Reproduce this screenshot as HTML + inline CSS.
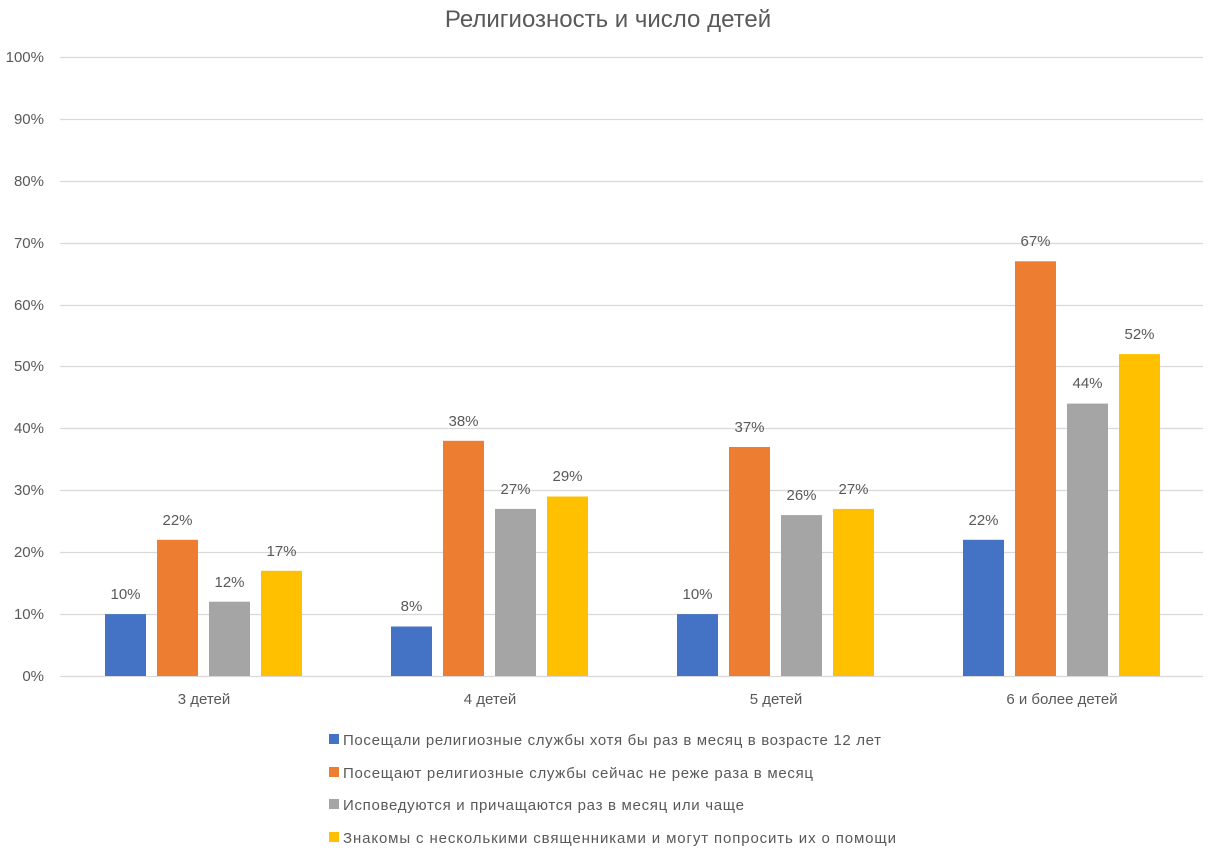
<!DOCTYPE html>
<html><head><meta charset="utf-8"><style>
body{margin:0;background:#fff;}
svg text{font-family:"Liberation Sans",sans-serif;fill:#595959;}
</style></head><body>
<svg width="1213" height="852" xmlns="http://www.w3.org/2000/svg">
<rect width="1213" height="852" fill="#fff"/>
<text x="608" y="27" font-size="24" text-anchor="middle">Религиозность и число детей</text>
<g stroke="#d9d9d9" stroke-width="1.3">
<line x1="60" x2="1203" y1="57.5" y2="57.5"/>
<line x1="60" x2="1203" y1="119.5" y2="119.5"/>
<line x1="60" x2="1203" y1="181.5" y2="181.5"/>
<line x1="60" x2="1203" y1="243.5" y2="243.5"/>
<line x1="60" x2="1203" y1="305.5" y2="305.5"/>
<line x1="60" x2="1203" y1="366.5" y2="366.5"/>
<line x1="60" x2="1203" y1="428.5" y2="428.5"/>
<line x1="60" x2="1203" y1="490.5" y2="490.5"/>
<line x1="60" x2="1203" y1="552.5" y2="552.5"/>
<line x1="60" x2="1203" y1="614.5" y2="614.5"/>
<line x1="60" x2="1203" y1="676.5" y2="676.5"/>
</g>
<g font-size="15" text-anchor="end">
<text x="44" y="62">100%</text><text x="44" y="124">90%</text><text x="44" y="186">80%</text>
<text x="44" y="248">70%</text><text x="44" y="310">60%</text><text x="44" y="371">50%</text>
<text x="44" y="433">40%</text><text x="44" y="495">30%</text><text x="44" y="557">20%</text>
<text x="44" y="619">10%</text><text x="44" y="681">0%</text>
</g>
<g>
<rect x="105" y="614.1" width="41" height="61.9" fill="#4472c4"/>
<rect x="157" y="539.8" width="41" height="136.2" fill="#ed7d31"/>
<rect x="209" y="601.7" width="41" height="74.3" fill="#a5a5a5"/>
<rect x="261" y="570.8" width="41" height="105.2" fill="#ffc000"/>
<rect x="391" y="626.5" width="41" height="49.5" fill="#4472c4"/>
<rect x="443" y="440.8" width="41" height="235.2" fill="#ed7d31"/>
<rect x="495" y="508.9" width="41" height="167.1" fill="#a5a5a5"/>
<rect x="547" y="496.5" width="41" height="179.5" fill="#ffc000"/>
<rect x="677" y="614.1" width="41" height="61.9" fill="#4472c4"/>
<rect x="729" y="447.0" width="41" height="229.0" fill="#ed7d31"/>
<rect x="781" y="515.1" width="41" height="160.9" fill="#a5a5a5"/>
<rect x="833" y="508.9" width="41" height="167.1" fill="#ffc000"/>
<rect x="963" y="539.8" width="41" height="136.2" fill="#4472c4"/>
<rect x="1015" y="261.3" width="41" height="414.7" fill="#ed7d31"/>
<rect x="1067" y="403.6" width="41" height="272.4" fill="#a5a5a5"/>
<rect x="1119" y="354.1" width="41" height="321.9" fill="#ffc000"/>
</g>
<g font-size="15" text-anchor="middle">
<text x="125.5" y="599">10%</text><text x="177.5" y="525">22%</text><text x="229.5" y="587">12%</text><text x="281.5" y="556">17%</text>
<text x="411.5" y="611">8%</text><text x="463.5" y="426">38%</text><text x="515.5" y="494">27%</text><text x="567.5" y="481">29%</text>
<text x="697.5" y="599">10%</text><text x="749.5" y="432">37%</text><text x="801.5" y="500">26%</text><text x="853.5" y="494">27%</text>
<text x="983.5" y="525">22%</text><text x="1035.5" y="246">67%</text><text x="1087.5" y="388">44%</text><text x="1139.5" y="339">52%</text>
</g>
<g font-size="15" text-anchor="middle">
<text x="204" y="704">3 детей</text><text x="490" y="704">4 детей</text>
<text x="776" y="704">5 детей</text><text x="1062" y="704">6 и более детей</text>
</g>
<g font-size="15">
<rect x="329" y="734" width="10" height="10" fill="#4472c4"/><text x="343" y="745" textLength="538">Посещали религиозные службы хотя бы раз в месяц в возрасте 12 лет</text>
<rect x="329" y="767" width="10" height="10" fill="#ed7d31"/><text x="343" y="778" textLength="470">Посещают религиозные службы сейчас не реже раза в месяц</text>
<rect x="329" y="799" width="10" height="10" fill="#a5a5a5"/><text x="343" y="810" textLength="401">Исповедуются и причащаются раз в месяц или чаще</text>
<rect x="329" y="832" width="10" height="10" fill="#ffc000"/><text x="343" y="843" textLength="553">Знакомы с несколькими священниками и могут попросить их о помощи</text>
</g>
</svg>
</body></html>
